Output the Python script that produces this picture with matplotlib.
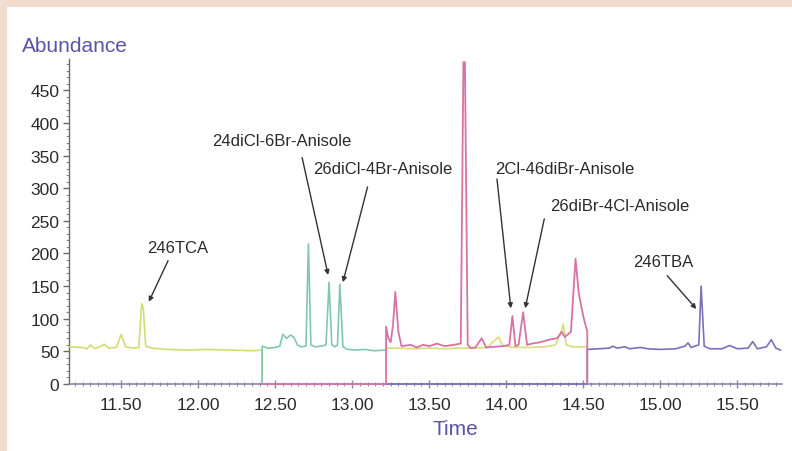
import matplotlib
matplotlib.use("Agg")
import matplotlib.pyplot as plt
from matplotlib.patches import Rectangle
from matplotlib.ticker import MultipleLocator

plt.rcParams['font.family'] = ['Liberation Sans', 'DejaVu Sans']

# ---- data ----
yel_t = [11.162, 11.25, 11.28, 11.30, 11.33, 11.36, 11.39, 11.42, 11.47, 11.50, 11.53, 11.58,
         11.615, 11.634, 11.645, 11.66, 11.70, 11.80, 11.95, 12.05, 12.20, 12.35, 12.416, 12.416]
yel_v = [57, 56, 54, 60, 54, 57, 61, 55, 56, 76, 57, 55,
         56, 123, 115, 58, 55, 53, 52, 53, 52, 51, 52, 0]

teal_t = [12.416, 12.416, 12.45, 12.50, 12.53, 12.55, 12.575, 12.60, 12.62, 12.645, 12.67, 12.70,
          12.716, 12.732, 12.76, 12.80, 12.83, 12.85, 12.868, 12.89, 12.905, 12.92, 12.94, 12.97,
          13.02, 13.08, 13.14, 13.22]
teal_v = [0, 58, 55, 56, 58, 76, 70, 75, 72, 60, 57, 58,
          215, 60, 57, 58, 60, 156, 60, 57, 60, 153, 57, 53,
          52, 53, 51, 52]

pink_t = [12.416, 13.22, 13.22, 13.235, 13.25, 13.265, 13.28, 13.30, 13.32, 13.38, 13.42, 13.46,
          13.50, 13.55, 13.60, 13.66, 13.705, 13.722, 13.732, 13.75, 13.77, 13.80, 13.84, 13.87,
          13.92, 13.98, 14.02, 14.04, 14.06, 14.08, 14.11, 14.135, 14.17, 14.22, 14.28, 14.33,
          14.36, 14.38, 14.42, 14.45, 14.47, 14.50, 14.526, 14.526]
pink_v = [0, 0, 88, 70, 64, 90, 141, 80, 58, 60, 56, 60,
          58, 62, 58, 60, 62, 493, 493, 60, 55, 56, 70, 56,
          57, 58, 60, 104, 58, 60, 110, 60, 62, 64, 68, 70,
          80, 72, 80, 192, 140, 104, 80, 0]

yel2_t = [13.22, 13.30, 13.40, 13.50, 13.60, 13.70, 13.80, 13.88, 13.92, 13.95, 13.98, 14.05,
          14.15, 14.25, 14.32, 14.355, 14.37, 14.39, 14.43, 14.526]
yel2_v = [55, 55, 54, 55, 54, 55, 55, 56, 66, 72, 58, 56,
          56, 57, 60, 78, 92, 60, 57, 57]

blue_t = [13.22, 14.526, 14.526, 14.60, 14.67, 14.69, 14.72, 14.77, 14.80, 14.87, 14.92, 15.00,
          15.10, 15.16, 15.18, 15.20, 15.25, 15.265, 15.285, 15.32, 15.40, 15.45, 15.50, 15.57,
          15.60, 15.63, 15.69, 15.72, 15.75, 15.78]
blue_v = [0, 0, 53, 54, 55, 58, 55, 57, 54, 56, 54, 53,
          54, 58, 63, 56, 60, 150, 58, 54, 54, 59, 54, 55,
          65, 54, 57, 68, 55, 52]

labels = ["246TCA", "24diCl-6Br-Anisole", "26diCl-4Br-Anisole",
          "2Cl-46diBr-Anisole", "26diBr-4Cl-Anisole", "246TBA"]
label_pos = [(11.87, 209), (12.545, 373), (13.20, 330), (14.377, 330), (14.74, 273), (15.02, 187)]
arrow_from = [(11.805, 189), (12.675, 347), (13.10, 302), (13.94, 314), (14.247, 253), (15.045, 166)]
arrow_to = [(11.68, 126), (12.844, 167), (12.94, 156), (14.03, 116), (14.123, 116), (15.234, 115)]

yticks = [0, 50, 100, 150, 200, 250, 300, 350, 400, 450]
xticks = [11.5, 12.0, 12.5, 13.0, 13.5, 14.0, 14.5, 15.0, 15.5]

# ---- figure ----
W, H = 792, 452
fig = plt.figure(figsize=(W / 100, H / 100), dpi=100)
fig.patch.set_facecolor('#f3dccd')
fig.patches.append(Rectangle((7 / W, 0), 1, 1 - 8 / H, transform=fig.transFigure,
                             facecolor='white', edgecolor='none', zorder=-10))

ax = fig.add_axes([69 / W, 1 - 385 / H, (782 - 69) / W, (385 - 60) / H])
ax.set_facecolor('none')

lw = 1.2
ax.plot(blue_t, blue_v, color='#7a70bc', lw=lw, zorder=3, clip_on=False)
ax.plot(yel_t, yel_v, color='#d3dc72', lw=lw, zorder=3, clip_on=False)
ax.plot(yel2_t, yel2_v, color='#d8dc7a', lw=lw, zorder=3, clip_on=False)
ax.plot(teal_t, teal_v, color='#82c9ab', lw=lw, zorder=4, clip_on=False)
ax.plot(pink_t, pink_v, color='#d872a6', lw=1.3, zorder=5, clip_on=False)

for lab, (tx, ty) in zip(labels, label_pos):
    ax.text(tx, ty, lab, ha='center', va='center', fontsize=12, color='#2a2a2a', zorder=6)
for (x0, y0), (x1, y1) in zip(arrow_from, arrow_to):
    ax.annotate('', xy=(x1, y1), xytext=(x0, y0),
                arrowprops=dict(arrowstyle='-|>', color='#333333', lw=1.0,
                                mutation_scale=7, shrinkA=0, shrinkB=0), zorder=6)

ax.set_xlim(11.162, 15.79)
ax.set_ylim(0, 498)
ax.set_xticks(xticks)
ax.set_xticklabels([f"{v:.2f}" for v in xticks])
ax.set_yticks(yticks)
ax.xaxis.set_minor_locator(MultipleLocator(0.05))
ax.yaxis.set_minor_locator(MultipleLocator(10))

for s in ['top', 'right']:
    ax.spines[s].set_visible(False)
ax.spines['left'].set_color('#6a6a6a')
ax.spines['bottom'].set_color('#8a86a8')
ax.spines['left'].set_linewidth(1.0)
ax.spines['bottom'].set_linewidth(1.2)

ax.tick_params(axis='y', which='major', length=4, width=1, color='#6a6a6a',
               labelsize=12.5, labelcolor='#2a2a2a', pad=3)
ax.tick_params(axis='y', which='minor', length=2, width=0.8, color='#8a8a8a')
ax.tick_params(axis='x', which='major', direction='inout', length=6, width=1, color='#8a86a8',
               labelsize=12.5, labelcolor='#2a2a2a', pad=6)
ax.tick_params(axis='x', which='minor', direction='inout', length=3, width=0.8, color='#8a86a8')

fig.text(22 / W, 1 - 47 / H, 'Abundance', ha='left', va='center', fontsize=15, color='#5a54a8')
fig.text(455 / W, 1 - 430 / H, 'Time', ha='center', va='center', fontsize=15, color='#5a54a8')

fig.savefig('out.png', dpi=100, facecolor=fig.get_facecolor())
